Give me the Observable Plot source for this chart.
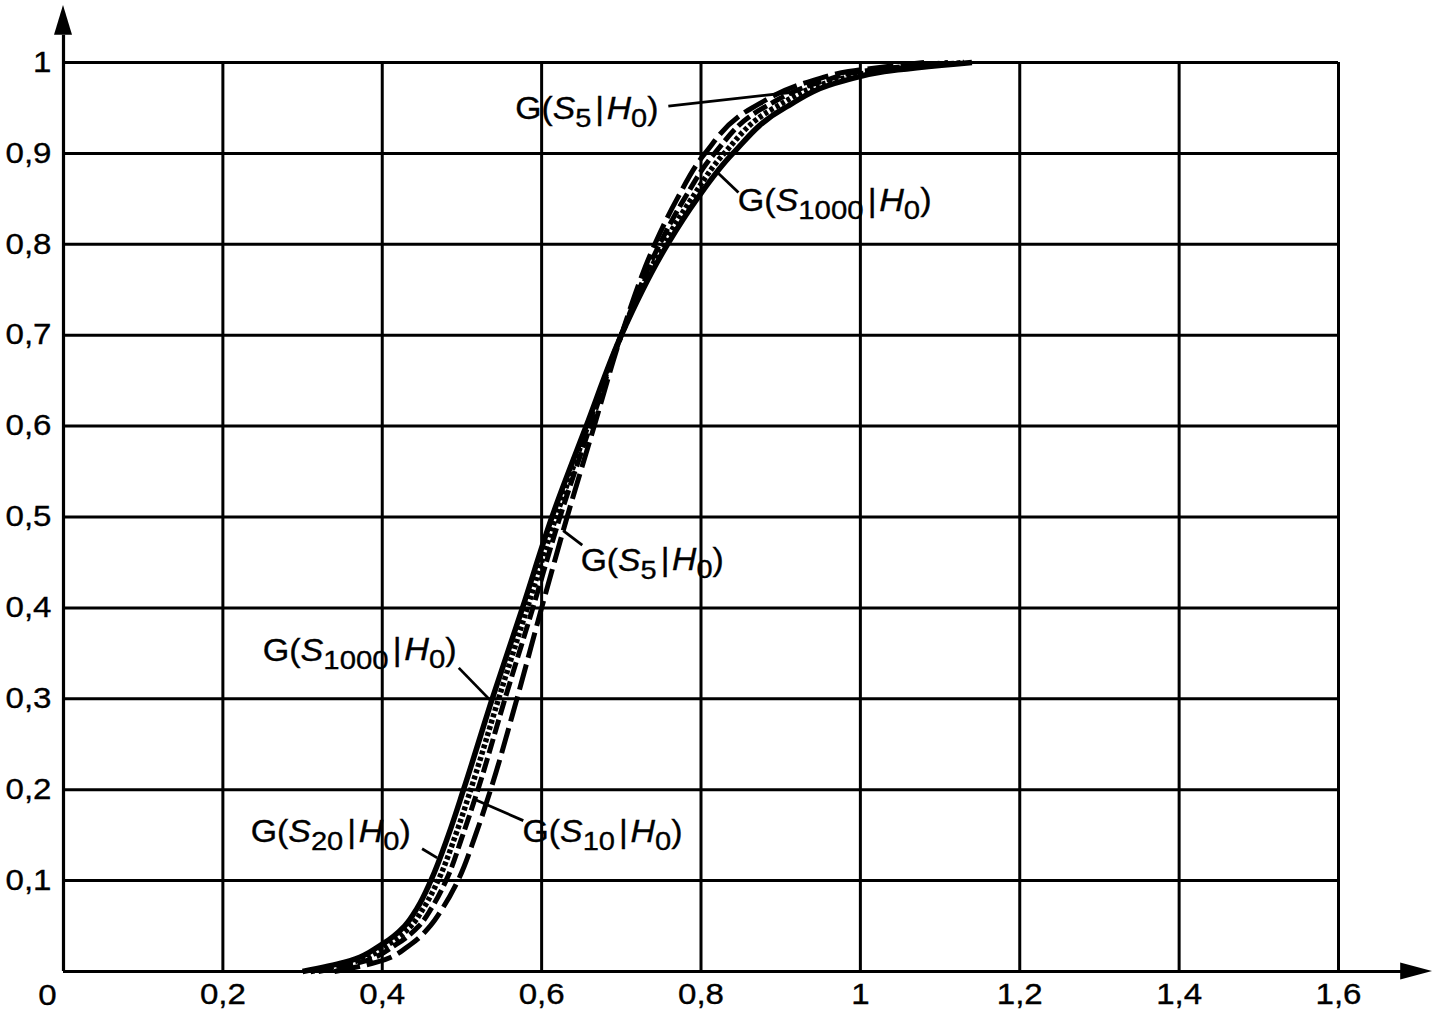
<!DOCTYPE html>
<html>
<head>
<meta charset="utf-8">
<script src="https://cdn.jsdelivr.net/npm/d3@7"></script>
<script src="https://cdn.jsdelivr.net/npm/@observablehq/plot@0.6"></script>
<style>
  html, body { margin: 0; padding: 0; background: #fff; }
  #chart { width: 1438px; height: 1017px; }
  svg { font-family: "Liberation Sans", Arial, sans-serif; }
</style>
</head>
<body>
<div id="chart"></div>
<script>
// cumulative probability levels G
const cdfLevels = [0, 0.01, 0.03, 0.05, 0.07, 0.1, 0.15, 0.2, 0.3, 0.4, 0.5, 0.6, 0.7, 0.8, 0.85, 0.9, 0.95, 0.98, 0.99, 1];
// S values reached at each level, per series
const s1000 = [0.30, 0.352, 0.400, 0.428, 0.444, 0.461, 0.483, 0.502, 0.538, 0.576, 0.613, 0.656, 0.700, 0.758, 0.795, 0.840, 0.905, 0.980, 1.030, 1.14];
const s20   = [0.31, 0.362, 0.408, 0.436, 0.452, 0.470, 0.492, 0.511, 0.546, 0.582, 0.618, 0.658, 0.700, 0.753, 0.788, 0.829, 0.892, 0.968, 1.018, 1.13];
const s10   = [0.32, 0.372, 0.418, 0.446, 0.462, 0.480, 0.501, 0.520, 0.554, 0.589, 0.623, 0.661, 0.700, 0.748, 0.779, 0.817, 0.878, 0.955, 1.000, 1.11];
const s5    = [0.34, 0.392, 0.436, 0.460, 0.476, 0.495, 0.517, 0.536, 0.569, 0.600, 0.632, 0.666, 0.700, 0.742, 0.770, 0.805, 0.864, 0.940, 0.985, 1.08];

const xTicks = [0.2, 0.4, 0.6, 0.8, 1, 1.2, 1.4, 1.6];
const yTicks = [0.1, 0.2, 0.3, 0.4, 0.5, 0.6, 0.7, 0.8, 0.9, 1];
const fmt = d => String(d).replace(".", ",");

// annotation labels: subscript, text position, leader line
const labelSubs = ["5", "1000", "5", "1000", "20", "10"];
const labelX    = [0.567, 0.846, 0.649, 0.250, 0.235, 0.576];
const labelY    = [0.949, 0.848, 0.452, 0.353, 0.153, 0.153];
const leadX1    = [0.759, 0.822, 0.627, 0.496, 0.450, 0.577];
const leadY1    = [0.952, 0.878, 0.485, 0.334, 0.135, 0.166];
const leadX2    = [0.912, 0.847, 0.651, 0.536, 0.469, 0.514];
const leadY2    = [0.967, 0.857, 0.469, 0.298, 0.125, 0.190];

const series = [
  {name: "1000", xs: s1000, dash: null, width: 5.5},
  {name: "20", xs: s20, dash: "4,2.5", width: 5.5},
  {name: "10", xs: s10, dash: "15,5", width: 5},
  {name: "5", xs: s5, dash: "26,7", width: 5}
];
const curves = series.map(s => ({...s, pts: cdfLevels.map((g, i) => ({x: s.xs[i], y: g}))}));

const labels = labelSubs.map((s, i) => ({
  text: `G(S${s}|H0)`, x: labelX[i], y: labelY[i],
  x1: leadX1[i], y1: leadY1[i], x2: leadX2[i], y2: leadY2[i]
}));

const plot = Plot.plot({
  width: 1438,
  height: 1017,
  marginLeft: 63,
  marginRight: 100,
  marginTop: 62,
  marginBottom: 46,
  x: {domain: [0, 1.6]},
  y: {domain: [0, 1]},
  style: {fontFamily: "Liberation Sans, Arial, sans-serif", background: "white", overflow: "visible"},
  marks: [
    Plot.ruleX(xTicks, {y1: 0, y2: 1, stroke: "black", strokeWidth: 3}),
    Plot.ruleY(yTicks, {x1: 0, x2: 1.6, stroke: "black", strokeWidth: 3}),
    Plot.ruleY([0], {x1: 0, x2: 1.68, stroke: "black", strokeWidth: 3.2}),
    Plot.ruleX([0], {y1: 0, y2: 1.03, stroke: "black", strokeWidth: 3.2}),
    Plot.axisX({ticks: xTicks, tickFormat: fmt, tickSize: 0, tickPadding: 12, fontSize: 29, label: null, fill: "black"}),
    Plot.axisY({ticks: yTicks, tickFormat: fmt, tickSize: 0, tickPadding: 12, fontSize: 29, label: null, fill: "black"}),
    Plot.text([0], {x: 0, y: 0, text: d => fmt(d), dx: -16, dy: 24, fontSize: 29, fill: "black"}),
    ...curves.map(c => Plot.line(c.pts, {
      x: "x", y: "y", curve: "monotone-y", stroke: "black",
      strokeWidth: c.width, strokeDasharray: c.dash, strokeLinecap: "butt"
    })),
    Plot.link(labels, {x1: "x1", y1: "y1", x2: "x2", y2: "y2", stroke: "black", strokeWidth: 2.8}),
    Plot.text(labels, {x: "x", y: "y", text: "text", textAnchor: "start", fontSize: 31, fill: "black"})
  ]
});

// arrowheads on the axes, placed through the scales
const sx = plot.scale("x"), sy = plot.scale("y");
const svg = d3.select(plot);
const ax0 = sx.apply(0), ay0 = sy.apply(0);
const yTop = sy.apply(1.0627), yBase = sy.apply(1.03);
const xTip = sx.apply(1.718), xBase = sx.apply(1.678);
svg.append("path")
  .attr("d", `M${ax0},${yTop}L${ax0 - 9},${yBase}L${ax0 + 9},${yBase}Z`)
  .attr("fill", "black");
svg.append("path")
  .attr("d", `M${xTip},${ay0}L${xBase},${ay0 - 8.5}L${xBase},${ay0 + 8.5}Z`)
  .attr("fill", "black");

// rebuild annotation texts with italic letters and subscripts
svg.selectAll("text").each(function() {
  const el = d3.select(this);
  el.attr("stroke", "black").attr("stroke-width", 0.35);
  const m = /^G\(S(\d+)\|H0\)$/.exec(this.textContent);
  if (!m) return;
  el.text(null);
  el.append("tspan").text("G(");
  el.append("tspan").attr("font-style", "italic").text("S");
  el.append("tspan").attr("font-size", "0.86em").attr("dy", "0.3em").text(m[1]);
  el.append("tspan").attr("dy", "-0.26em").attr("dx", "0.12em").text("|");
  el.append("tspan").attr("font-style", "italic").attr("dx", "0.08em").text("H");
  el.append("tspan").attr("font-size", "0.86em").attr("dy", "0.3em").text("0");
  el.append("tspan").attr("dy", "-0.26em").text(")");
});

document.getElementById("chart").appendChild(plot);

// the scanned original's lettering is a little wider than the font
svg.selectAll("text").each(function() {
  const L = this.getComputedTextLength();
  if (L > 0) {
    this.setAttribute("textLength", (L * 1.14).toFixed(1));
    this.setAttribute("lengthAdjust", "spacingAndGlyphs");
  }
});
</script>
</body>
</html>
